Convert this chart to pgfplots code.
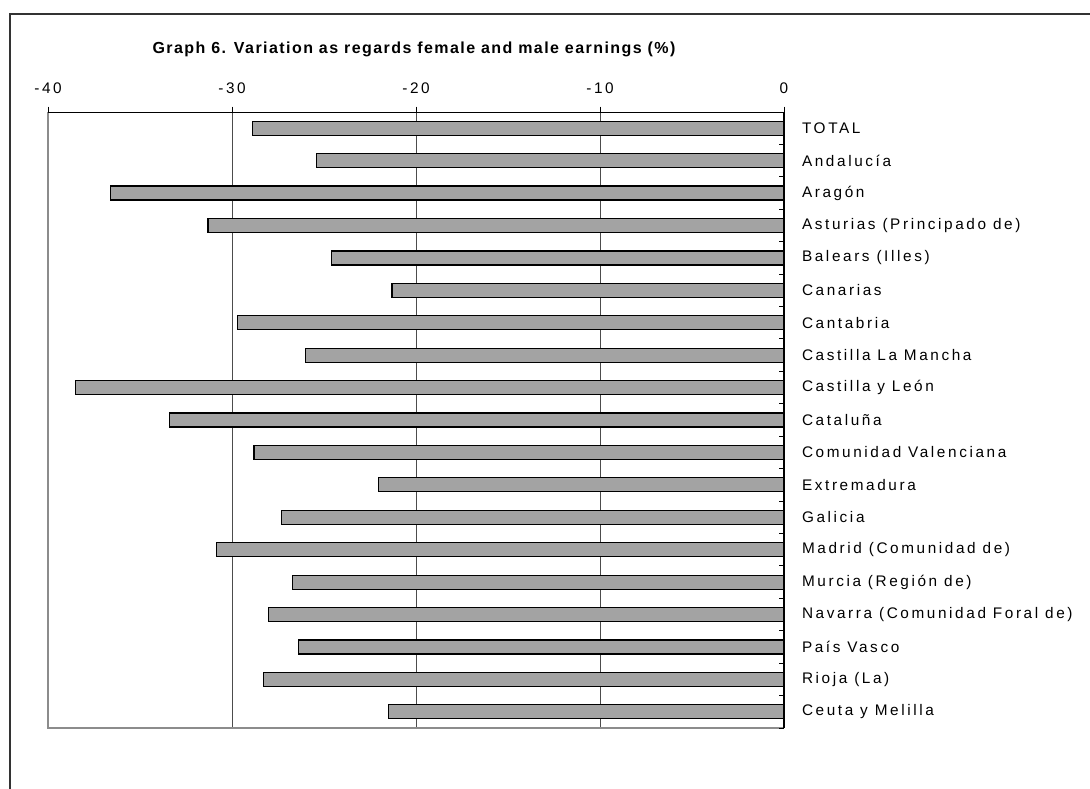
\documentclass[border=0pt]{standalone}
\usepackage{fontspec}
\setmainfont{Liberation Sans}[LetterSpace=17]
\newfontfamily\titlefont{Liberation Sans}[LetterSpace=9]
\usepackage{pgfplots}
\pgfplotsset{compat=1.18}
\begin{document}
\begin{tikzpicture}[x=0.75pt,y=-0.75pt]
\useasboundingbox (0,0) rectangle (1090,789);
\draw[black!80, line width=1.5pt] (10,800) -- (10,14) -- (1100,14);
\node[font=\titlefont\bfseries\fontsize{12pt}{14pt}\selectfont, anchor=base] at (414,53) {Graph 6. Variation as regards female and male earnings (\%)};
\begin{axis}[
 at={(36pt,-546pt)}, anchor=south west,
 scale only axis, width=552pt, height=462pt,
 xmin=-40, xmax=0, ymin=-0.5, ymax=18.5, y dir=reverse,
 xbar, bar width=10.5pt,
 axis line style={draw=none},
 xtick={-40,-30,-20,-10,0}, xticklabels={-40,-30,-20,-10,0},
 xtick pos=top, xticklabel pos=top, tick align=outside,
 major tick length=4pt,
 xmajorgrids, grid style={black!70, line width=0.75pt},
 ytick={0,...,18},
 yticklabels={TOTAL,Andalucía,Aragón,Asturias (Principado de),Balears (Illes),Canarias,Cantabria,Castilla La Mancha,Castilla y León,Cataluña,Comunidad Valenciana,Extremadura,Galicia,Madrid (Comunidad de),Murcia (Región de),Navarra (Comunidad Foral de),País Vasco,Rioja (La),Ceuta y Melilla},
 ytick pos=right, yticklabel pos=right,
 yticklabel style={anchor=west, xshift=6pt},
 xticklabel style={yshift=6pt},
 ticklabel style={font=\fontsize{11.5pt}{13pt}\selectfont},
 tick style={black, line width=0.75pt},
 ytick style={draw=none},
 clip=false,
]
\addplot[fill=black!36, draw=black, line width=0.9pt] coordinates {
(-28.9,0) (-25.4,1) (-36.6,2) (-31.3,3) (-24.6,4) (-21.3,5) (-29.7,6)
(-26.0,7) (-38.5,8) (-33.4,9) (-28.8,10) (-22.05,11) (-27.3,12) (-30.85,13)
(-26.7,14) (-28.0,15) (-26.4,16) (-28.3,17) (-21.5,18)};
\draw[black!45, line width=1pt] (axis cs:-40,-0.5) -- (axis cs:-40,18.5) -- (axis cs:0,18.5);
\draw[black, line width=0.75pt] (axis cs:-40,-0.5) -- (axis cs:0,-0.5);
\draw[black, line width=1pt] (axis cs:0,-0.5) -- (axis cs:0,18.5);
\pgfplotsinvokeforeach{0,...,19}{\draw[black, line width=0.75pt] (axis cs:0,#1-0.5) -- ++(-4pt,0pt);}
\end{axis}
\end{tikzpicture}
\end{document}
